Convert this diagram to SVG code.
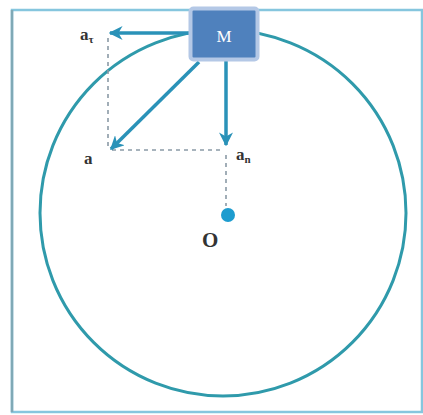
<svg xmlns="http://www.w3.org/2000/svg" width="423" height="415" viewBox="0 0 423 415">
<style>
.vec{stroke:#2a92b8;stroke-width:3.5;fill:none}
.dash{stroke:#8a9aa6;stroke-width:1.6;stroke-dasharray:4 4;fill:none}
.lbl{font-family:"Liberation Serif",serif;font-weight:bold;fill:#333}
</style>
<defs>
<marker id="ah" viewBox="0 0 10 10" refX="9" refY="5" markerWidth="4" markerHeight="4" orient="auto" markerUnits="strokeWidth">
<path d="M0,0 L10,5 L0,10 L3,5 z" fill="#2a92b8"/>
</marker>
</defs>
<rect width="423" height="415" fill="#ffffff"/>
<rect x="12" y="10" width="410" height="402" fill="none" stroke="#86c6de" stroke-width="2.5"/>
<line x1="12" y1="10" x2="12" y2="412" stroke="#7fa9b6" stroke-width="2.5"/>
<circle id="circle" cx="223" cy="213" r="183" fill="none" stroke="#2f9aab" stroke-width="3"/>
<g id="connectors">
<line class="dash" x1="108" y1="38" x2="108" y2="148"/>
<line class="dash" x1="112" y1="150" x2="222" y2="150"/>
<line class="dash" x1="226" y1="155" x2="226" y2="206"/>
<line class="vec" x1="192" y1="33" x2="110" y2="33" marker-end="url(#ah)"/>
<line class="vec" x1="199" y1="62" x2="111" y2="149" marker-end="url(#ah)"/>
<line class="vec" x1="226" y1="60" x2="226" y2="145" marker-end="url(#ah)"/>
</g>
<g id="O">
<circle cx="228" cy="215" r="7" fill="#1d9ccf"/>
<text class="lbl" x="202" y="247" font-size="21">O</text>
</g>
<g id="labels">
<text class="lbl" x="80" y="40" font-size="17">a<tspan font-size="11" dy="3">τ</tspan></text>
<text class="lbl" x="84" y="164" font-size="17">a</text>
<text class="lbl" x="236" y="160" font-size="17">a<tspan font-size="11" dy="3">n</tspan></text>
</g>
<g id="M">
<rect x="190.5" y="8.5" width="67" height="51" rx="3" fill="#4f81bd" stroke="#b4c8e6" stroke-width="4"/>
<text x="224" y="42" font-family="Liberation Serif,serif" font-size="17" fill="#ffffff" text-anchor="middle">M</text>
</g>
</svg>
